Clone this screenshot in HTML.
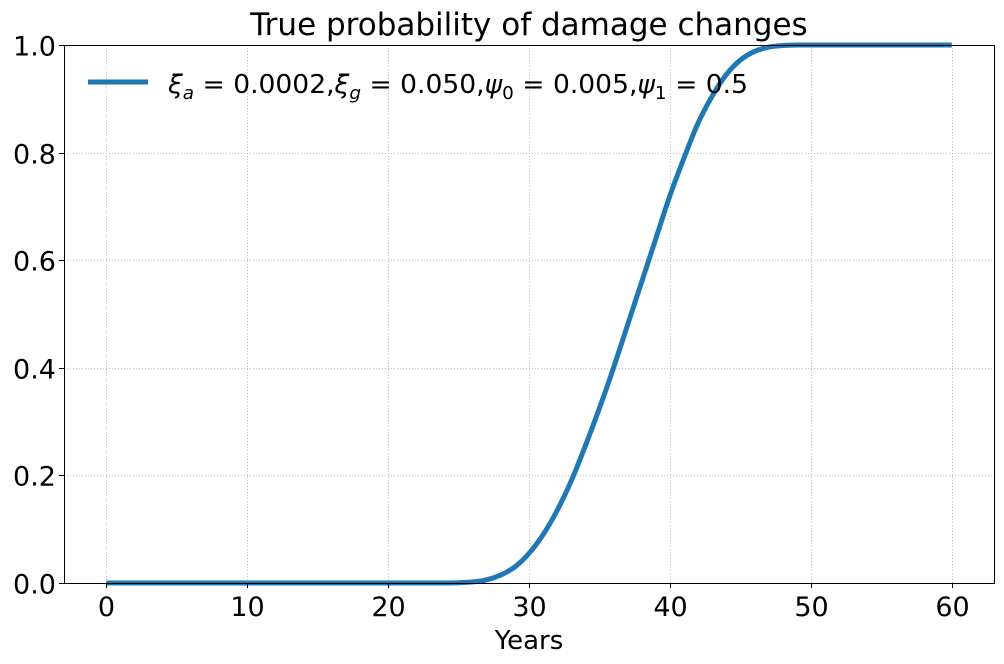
<!DOCTYPE html>
<html><head><meta charset="utf-8"><style>
html,body{margin:0;padding:0;background:#fff;}
svg{display:block;font-family:"DejaVu Sans","Liberation Sans",sans-serif;}
</style></head><body>
<svg id="chart" width="1004" height="664" xmlns="http://www.w3.org/2000/svg">
<rect x="0" y="0" width="1004" height="664" fill="#fff"/>
<text x="529" y="35" font-size="31" text-anchor="middle">True probability of damage changes</text>
<g id="grid"></g>
<g id="series"></g>
<rect x="64.5" y="45.5" width="930" height="538" fill="none" stroke="#000" stroke-width="1"/>
<g id="ticks"></g>
<text x="529" y="649" font-size="26" text-anchor="middle">Years</text>
<g>
<line x1="88" y1="82" x2="148" y2="82" stroke="#1f77b4" stroke-width="5"/>
<text x="168" y="93" font-size="26" textLength="580" lengthAdjust="spacingAndGlyphs"><tspan font-style="italic">ξ</tspan><tspan font-size="18" font-style="italic" dy="6">a</tspan><tspan dy="-6"> = 0.0002,</tspan><tspan font-style="italic">ξ</tspan><tspan font-size="18" font-style="italic" dy="6">g</tspan><tspan dy="-6"> = 0.050,</tspan><tspan font-style="italic">ψ</tspan><tspan font-size="18" dy="6">0</tspan><tspan dy="-6"> = 0.005,</tspan><tspan font-style="italic">ψ</tspan><tspan font-size="18" dy="6">1</tspan><tspan dy="-6"> = 0.5</tspan></text>
</g>
</svg>
<script>
const years = [];
for (let i = 0; i <= 60; i++) years.push(i);
const probability = [0,0,0,0,0,0,0,0,0,0,0,0,0,0,0,0,0,0,0,0,0,0,0,0,0,
0.0005,0.002,0.006,0.015,0.03,0.055,0.09,0.135,0.19,0.255,0.325,0.40,0.48,0.56,0.64,0.72,0.79,0.855,0.905,0.945,0.972,0.988,0.996,0.999,
1,1,1,1,1,1,1,1,1,1,1,1,1];
const xTicks = [0,10,20,30,40,50,60];
const yTicks = [0,0.2,0.4,0.6,0.8,1.0];
const yTickLabels = ["0.0","0.2","0.4","0.6","0.8","1.0"];

const NS = "http://www.w3.org/2000/svg";
const X0 = 64, X1 = 994, Y0 = 583, Y1 = 45, xMin = -3, xMax = 63;
const xs = v => X0 + (v - xMin) / (xMax - xMin) * (X1 - X0);
const ys = v => Y0 - v * (Y0 - Y1);

const grid = document.getElementById('grid');
const ticks = document.getElementById('ticks');
function mk(tag, attrs, parent) { const e = document.createElementNS(NS, tag); for (const k in attrs) e.setAttribute(k, attrs[k]); parent.appendChild(e); return e; }

xTicks.forEach(t => {
  const x = Math.round(xs(t)) + 0.5;
  const g = mk('line', {x1:x, x2:x, y1:Y1, y2:Y0, stroke:'#b0b0b0', 'stroke-width':0.8, 'stroke-dasharray':'1,2'}, grid);
  
  
  mk('line', {x1:x, x2:x, y1:Y0+0.5, y2:Y0+5, stroke:'#000'}, ticks);
  const l = mk('text', {x:x, y:Y0+33, 'font-size':27, 'text-anchor':'middle'}, ticks);
  l.textContent = t;
  
  
});
yTicks.forEach((t, i) => {
  const y = Math.round(ys(t)) + 0.5;
  const g = mk('line', {x1:X0, x2:X1, y1:y, y2:y, stroke:'#b0b0b0', 'stroke-width':0.8, 'stroke-dasharray':'1,2'}, grid);
  
  
  mk('line', {x1:X0-5, x2:X0+0.5, y1:y, y2:y, stroke:'#000'}, ticks);
  const l = mk('text', {x:X0-8, y:y+10, 'font-size':27, 'text-anchor':'end'}, ticks);
  l.textContent = yTickLabels[i];
  
  
});
const pts = years.map((yr, i) => [xs(yr), ys(probability[i])]);
let d = 'M' + pts[0][0].toFixed(2) + ',' + pts[0][1].toFixed(2);
for (let i = 0; i < pts.length - 1; i++) {
  const p0 = pts[Math.max(0, i-1)], p1 = pts[i], p2 = pts[i+1], p3 = pts[Math.min(pts.length-1, i+2)];
  const c1x = p1[0] + (p2[0]-p0[0])/6, c1y = p1[1] + (p2[1]-p0[1])/6;
  const c2x = p2[0] - (p3[0]-p1[0])/6, c2y = p2[1] - (p3[1]-p1[1])/6;
  d += ' C' + c1x.toFixed(2)+','+c1y.toFixed(2)+' '+c2x.toFixed(2)+','+c2y.toFixed(2)+' '+p2[0].toFixed(2)+','+p2[1].toFixed(2);
}
const path = mk('path', {d:d, fill:'none', stroke:'#1f77b4', 'stroke-width':5, 'stroke-linejoin':'round'}, document.getElementById('series'));


</script>
</body></html>
